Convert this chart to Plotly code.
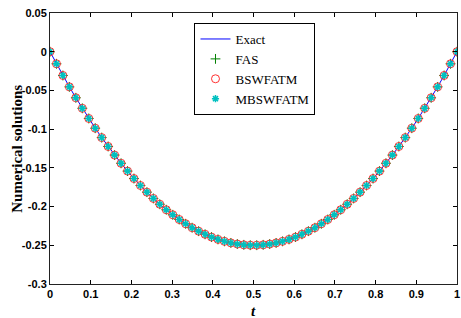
import plotly.graph_objects as go

# t sample points (64 points on [0, 1])
t_values = [0.0, 0.0159, 0.0317, 0.0476, 0.0635, 0.0794, 0.0952, 0.1111, 0.1270, 0.1429,
            0.1587, 0.1746, 0.1905, 0.2063, 0.2222, 0.2381, 0.2540, 0.2698, 0.2857, 0.3016,
            0.3175, 0.3333, 0.3492, 0.3651, 0.3810, 0.3968, 0.4127, 0.4286, 0.4444, 0.4603,
            0.4762, 0.4921, 0.5079, 0.5238, 0.5397, 0.5556, 0.5714, 0.5873, 0.6032, 0.6190,
            0.6349, 0.6508, 0.6667, 0.6825, 0.6984, 0.7143, 0.7302, 0.7460, 0.7619, 0.7778,
            0.7937, 0.8095, 0.8254, 0.8413, 0.8571, 0.8730, 0.8889, 0.9048, 0.9206, 0.9365,
            0.9524, 0.9683, 0.9841, 1.0]

exact_values = [0.0, -0.0156, -0.0307, -0.0454, -0.0595, -0.0731, -0.0862, -0.0988, -0.1109, -0.1224,
                -0.1335, -0.1441, -0.1542, -0.1638, -0.1728, -0.1814, -0.1895, -0.1970, -0.2041, -0.2106,
                -0.2167, -0.2222, -0.2273, -0.2318, -0.2358, -0.2394, -0.2424, -0.2449, -0.2469, -0.2484,
                -0.2494, -0.2499, -0.2499, -0.2494, -0.2484, -0.2469, -0.2449, -0.2424, -0.2394, -0.2358,
                -0.2318, -0.2273, -0.2222, -0.2167, -0.2106, -0.2041, -0.1970, -0.1895, -0.1814, -0.1728,
                -0.1638, -0.1542, -0.1441, -0.1335, -0.1224, -0.1109, -0.0988, -0.0862, -0.0731, -0.0595,
                -0.0454, -0.0307, -0.0156, 0.0]

fas_values = list(exact_values)
bswfatm_values = list(exact_values)
mbswfatm_values = list(exact_values)

x_ticks = [0, 0.1, 0.2, 0.3, 0.4, 0.5, 0.6, 0.7, 0.8, 0.9, 1]
x_tick_labels = ["0", "0.1", "0.2", "0.3", "0.4", "0.5", "0.6", "0.7", "0.8", "0.9", "1"]
y_ticks = [0.05, 0, -0.05, -0.1, -0.15, -0.2, -0.25, -0.3]
y_tick_labels = ["0.05", "0", "-0.05", "-0.1", "-0.15", "-0.2", "-0.25", "-0.3"]

fig = go.Figure()
fig.add_trace(go.Scatter(x=t_values, y=exact_values, mode="lines", name="Exact",
                         line=dict(color="#0000ff", width=1)))
fig.add_trace(go.Scatter(x=t_values, y=fas_values, mode="markers", name="FAS",
                         marker=dict(symbol="cross-thin-open", size=7, color="#008000",
                                     line=dict(color="#008000", width=1))))
fig.add_trace(go.Scatter(x=t_values, y=bswfatm_values, mode="markers", name="BSWFATM",
                         marker=dict(symbol="circle-open", size=8, color="#ff3030",
                                     line=dict(color="#ff3030", width=1))))
fig.add_trace(go.Scatter(x=t_values, y=mbswfatm_values, mode="markers", name="MBSWFATM",
                         marker=dict(symbol="asterisk-open", size=6, color="#00c0c0",
                                     line=dict(color="#00c0c0", width=1.5))))

tick_font = dict(family="Liberation Sans Narrow, Arial Narrow, Liberation Sans", size=11,
                 color="black", weight="bold")

axis_common = dict(ticks="inside", ticklen=4, tickcolor="black", mirror="ticks",
                   showline=True, linecolor="#222222", linewidth=1, showgrid=False,
                   zeroline=False, tickfont=tick_font, automargin=False,
                   ticklabeloverflow="allow")

fig.update_layout(
    width=461, height=318,
    margin=dict(l=50, r=4, t=13, b=34),
    paper_bgcolor="white", plot_bgcolor="white",
    showlegend=True,
    legend=dict(x=0.355, y=0.963, xanchor="left", yanchor="top",
                bgcolor="white", bordercolor="black", borderwidth=1,
                font=dict(family="Liberation Serif, Times New Roman", size=13, color="black"),
                itemwidth=30, tracegroupgap=0),
    xaxis=dict(range=[0, 1], tickvals=x_ticks, ticktext=x_tick_labels, **axis_common),
    yaxis=dict(range=[-0.3, 0.05], tickvals=y_ticks, ticktext=y_tick_labels, **axis_common),
    annotations=[
        dict(text="<i>t</i>", xref="paper", yref="paper", x=0.5, y=-0.1,
             xanchor="center", yanchor="middle", showarrow=False,
             font=dict(family="Liberation Serif, Times New Roman", size=15,
                       color="black", weight="bold")),
        dict(text="Numerical solutions", xref="paper", yref="paper", x=-0.083, y=0.5,
             xanchor="center", yanchor="middle", textangle=-90, showarrow=False,
             font=dict(family="Liberation Serif, Times New Roman", size=15,
                       color="black", weight="bold")),
    ],
)

fig.write_html("out.html", config={"displayModeBar": False},
               post_script="document.body.style.margin='0';document.body.style.overflow='hidden';")
